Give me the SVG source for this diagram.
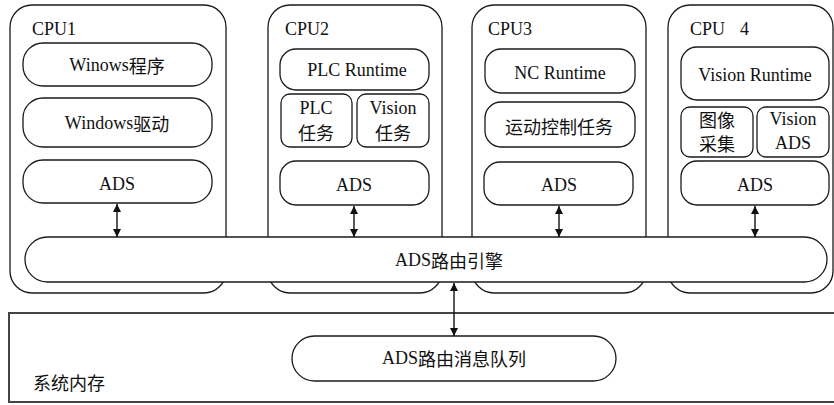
<svg xmlns="http://www.w3.org/2000/svg" width="834" height="405" viewBox="0 0 834 405">
  <style>
    .box { fill: #fff; stroke: #1a1a1a; stroke-width: 1.3; }
    .mem { fill: #fff; stroke: #444; stroke-width: 2; }
    .t { font-family: "Liberation Serif", serif; font-size: 18px; fill: #111; text-anchor: middle; dominant-baseline: central; }
    .lbl { font-family: "Liberation Serif", serif; font-size: 18px; fill: #111; }
    .cjk { font-family: "Noto Sans CJK SC", sans-serif; font-size: 18px; }
    .link { stroke: #111; stroke-width: 1.4; fill: none; marker-start: url(#ah); marker-end: url(#ah); }
  </style>
  <defs>
    <marker id="ah" viewBox="0 0 10 10" refX="10" refY="5" markerWidth="8" markerHeight="10" markerUnits="userSpaceOnUse" orient="auto-start-reverse">
      <path d="M0,0 L10,5 L0,10 z" fill="#111"/>
    </marker>
  </defs>

  <!-- system memory -->
  <g id="memory">
    <rect class="mem" x="9" y="313" width="830" height="89"/>
    <text class="lbl cjk" x="33" y="390">系统内存</text>
  </g>

  <!-- CPU containers -->
  <g id="cpu1">
    <rect class="box" x="10" y="5" width="216" height="288" rx="22"/>
    <text class="lbl" x="32" y="35">CPU1</text>
  </g>
  <g id="cpu2">
    <rect class="box" x="268" y="5" width="174" height="288" rx="22"/>
    <text class="lbl" x="285" y="35">CPU2</text>
  </g>
  <g id="cpu3">
    <rect class="box" x="472" y="5" width="174" height="288" rx="22"/>
    <text class="lbl" x="488" y="35">CPU3</text>
  </g>
  <g id="cpu4">
    <rect class="box" x="668" y="5" width="165" height="288" rx="22"/>
    <text class="lbl" x="690" y="35">CPU</text>
    <text class="lbl" x="740" y="35">4</text>
  </g>

  <!-- CPU1 contents -->
  <g id="win-prog">
    <rect class="box" x="23" y="43" width="189" height="43" rx="20"/>
    <text class="t" x="117" y="65">Winows<tspan class="cjk">程序</tspan></text>
  </g>
  <g id="win-drv">
    <rect class="box" x="23" y="98" width="189" height="49" rx="20"/>
    <text class="t" x="117" y="123">Windows<tspan class="cjk">驱动</tspan></text>
  </g>
  <g id="ads1">
    <rect class="box" x="23" y="160" width="189" height="43" rx="20"/>
    <text class="t" x="117" y="184">ADS</text>
  </g>

  <!-- CPU2 contents -->
  <g id="plc-rt">
    <rect class="box" x="280" y="49" width="149" height="41" rx="16"/>
    <text class="t" x="357" y="70">PLC Runtime</text>
  </g>
  <g id="plc-task">
    <rect class="box" x="281" y="94" width="71" height="53" rx="9"/>
    <text class="t" x="316" y="108">PLC</text>
    <text class="t cjk" x="316" y="132">任务</text>
  </g>
  <g id="vision-task">
    <rect class="box" x="357" y="94" width="72" height="53" rx="9"/>
    <text class="t" x="393" y="108">Vision</text>
    <text class="t cjk" x="393" y="132">任务</text>
  </g>
  <g id="ads2">
    <rect class="box" x="280" y="161" width="149" height="44" rx="16"/>
    <text class="t" x="354" y="185">ADS</text>
  </g>

  <!-- CPU3 contents -->
  <g id="nc-rt">
    <rect class="box" x="485" y="49" width="150" height="44" rx="16"/>
    <text class="t" x="560" y="73">NC Runtime</text>
  </g>
  <g id="motion-task">
    <rect class="box" x="485" y="102" width="150" height="45" rx="16"/>
    <text class="t cjk" x="559" y="126">运动控制任务</text>
  </g>
  <g id="ads3">
    <rect class="box" x="484" y="162" width="149" height="43" rx="16"/>
    <text class="t" x="559" y="185">ADS</text>
  </g>

  <!-- CPU4 contents -->
  <g id="vision-rt">
    <rect class="box" x="681" y="47" width="148" height="53" rx="16"/>
    <text class="t" x="755" y="75">Vision Runtime</text>
  </g>
  <g id="image-acq">
    <rect class="box" x="681" y="107" width="72" height="50" rx="9"/>
    <text class="t cjk" x="717" y="119">图像</text>
    <text class="t cjk" x="717" y="143">采集</text>
  </g>
  <g id="vision-ads">
    <rect class="box" x="757" y="107" width="72" height="50" rx="9"/>
    <text class="t" x="793" y="119">Vision</text>
    <text class="t" x="793" y="143">ADS</text>
  </g>
  <g id="ads4">
    <rect class="box" x="681" y="161" width="148" height="44" rx="16"/>
    <text class="t" x="755" y="185">ADS</text>
  </g>

  <!-- router -->
  <g id="router">
    <rect class="box" x="25" y="237" width="802" height="45" rx="22.5"/>
    <text class="t" x="449" y="260">ADS<tspan class="cjk">路由引擎</tspan></text>
  </g>

  <!-- message queue -->
  <g id="queue">
    <rect class="box" x="292" y="336" width="324" height="45" rx="22.5"/>
    <text class="t" x="454" y="358">ADS<tspan class="cjk">路由消息队列</tspan></text>
  </g>

  <!-- connectors -->
  <g id="connectors">
    <line class="link" x1="117" y1="204" x2="117" y2="237"/>
    <line class="link" x1="354" y1="206" x2="354" y2="237"/>
    <line class="link" x1="559" y1="206" x2="559" y2="237"/>
    <line class="link" x1="755" y1="206" x2="755" y2="237"/>
    <line class="link" x1="454" y1="283" x2="454" y2="336"/>
  </g>
</svg>
